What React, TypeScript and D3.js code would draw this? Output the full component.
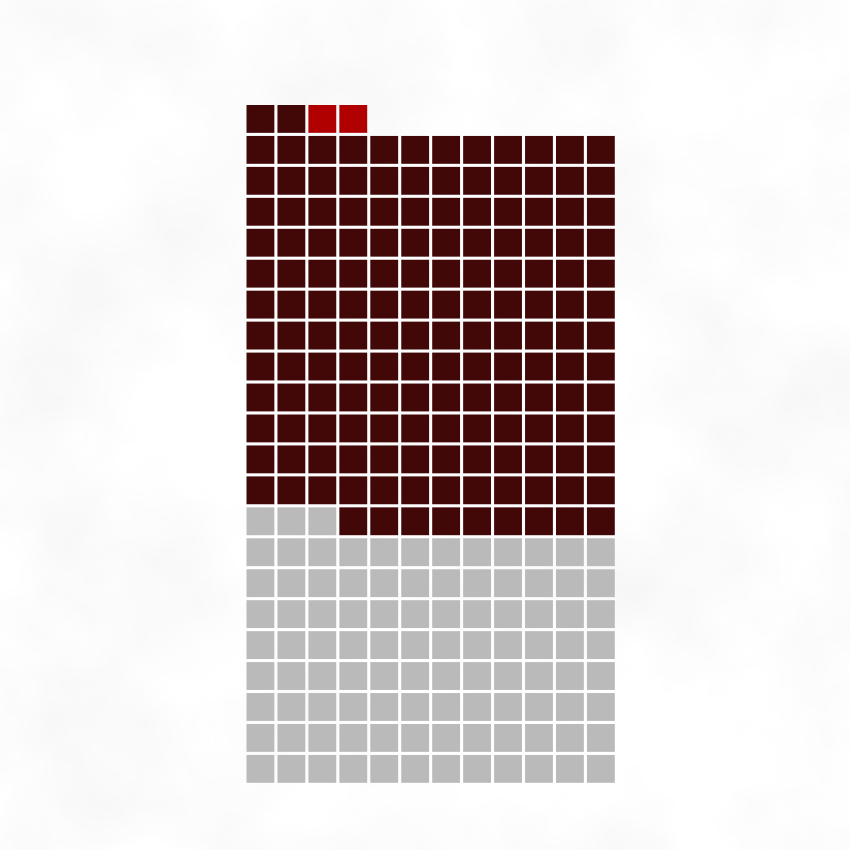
import { useMemo } from "react";
import * as d3 from "d3";

// waffle: 12 columns, filled from the bottom-left, row by row upward
const categories = ["Rest", "Main", "Highlight"];
const counts = [99, 155, 2];
const colors = ["#bababa", "#420808", "#b00000"];

const COLS = 12;

export default function App() {
  const width = 850;
  const height = 850;

  const total = d3.sum(counts);
  const rows = Math.ceil(total / COLS);

  const pitch = 30.95;
  const left = 246.5;
  const bottom = 105 + rows * pitch;

  const x = d3.scaleLinear().domain([0, COLS]).range([left, left + COLS * pitch]);
  const y = d3.scaleLinear().domain([0, rows]).range([bottom, bottom - rows * pitch]);
  const size = pitch - 3.1;

  const cells = useMemo(() => {
    const out: { i: number; cat: number }[] = [];
    let i = 0;
    counts.forEach((c, k) => {
      for (let j = 0; j < c; j++) out.push({ i: i++, cat: k });
    });
    return out;
  }, []);

  const color = d3.scaleOrdinal<number, string>().domain(d3.range(categories.length)).range(colors);

  return (
    <svg
      width={width}
      height={height}
      viewBox={`0 0 ${width} ${height}`}
      style={{ position: "fixed", left: 0, top: 0, display: "block" }}
    >
      <defs>
        {/* mottled paper-like background */}
        <filter id="clouds" x="0" y="0" width="100%" height="100%">
          <feTurbulence type="fractalNoise" baseFrequency="0.006" numOctaves={8} seed={7} />
          <feColorMatrix
            type="matrix"
            values="0 0 0 0 0.925  0 0 0 0 0.925  0 0 0 0 0.925  2.2 0 0 0 -0.85"
          />
        </filter>
      </defs>
      <rect width={width} height={height} fill="#ffffff" />
      <rect width={width} height={height} filter="url(#clouds)" />
      <g>
        {cells.map((d) => {
          const col = d.i % COLS;
          const row = Math.floor(d.i / COLS);
          return (
            <rect
              key={d.i}
              x={x(col)}
              y={y(row + 1)}
              width={size}
              height={size}
              fill={color(d.cat)}
            />
          );
        })}
      </g>
    </svg>
  );
}
